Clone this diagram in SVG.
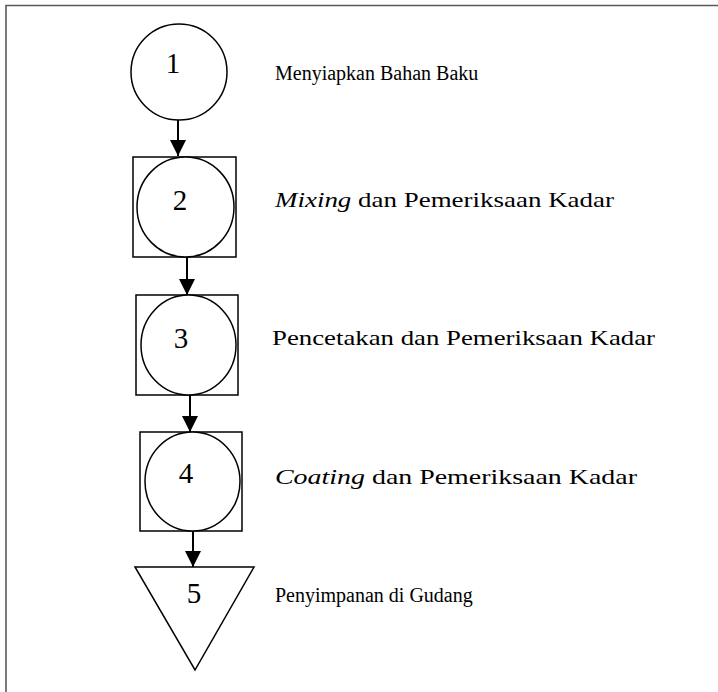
<svg xmlns="http://www.w3.org/2000/svg" width="718" height="692" viewBox="0 0 718 692">
  <defs>
    <marker id="arrow" markerWidth="16" markerHeight="16" refX="16" refY="8" orient="auto" markerUnits="userSpaceOnUse">
      <path d="M0,0 L16,8 L0,16 Z" fill="#000"/>
    </marker>
    <style>
      .shape { fill: #fff; stroke: #000; stroke-width: 1.5; }
      .num { font-family: "Liberation Serif", "Times New Roman", serif; font-size: 29px; fill: #000; text-anchor: middle; }
      .label { font-family: "Liberation Serif", "Times New Roman", serif; font-size: 20px; fill: #000; }
      .wide { font-size: 21px; }
      .conn { stroke: #000; stroke-width: 2; fill: none; marker-end: url(#arrow); }
      .frame { stroke: #5a5a5a; stroke-width: 1.6; fill: none; }
    </style>
  </defs>

  <rect width="718" height="692" fill="#fff"/>
  <!-- outer frame: top and left edges -->
  <path class="frame" d="M6,692 L6,5.5 L718,5.5"/>

  <!-- connectors -->
  <g id="connectors">
    <line class="conn" x1="178" y1="120" x2="178" y2="156"/>
    <line class="conn" x1="187" y1="257" x2="187" y2="295"/>
    <line class="conn" x1="190" y1="395" x2="190" y2="432"/>
    <line class="conn" x1="193" y1="531" x2="193" y2="567"/>
  </g>

  <!-- step 1: operation -->
  <g id="node1">
    <circle class="shape" cx="179" cy="72" r="48"/>
    <text class="num" x="173" y="73">1</text>
    <text class="label" x="275" y="80">Menyiapkan Bahan Baku</text>
  </g>

  <!-- step 2: combined operation / inspection -->
  <g id="node2">
    <rect class="shape" x="133" y="157" width="103" height="100"/>
    <ellipse class="shape" cx="185.5" cy="207" rx="48.5" ry="50"/>
    <text class="num" x="180" y="210">2</text>
    <text class="label wide" x="275" y="207" textLength="339" lengthAdjust="spacingAndGlyphs"><tspan font-style="italic">Mixing</tspan> dan Pemeriksaan Kadar</text>
  </g>

  <!-- step 3: combined operation / inspection -->
  <g id="node3">
    <rect class="shape" x="136" y="295" width="102" height="100"/>
    <ellipse class="shape" cx="188.5" cy="345" rx="47.5" ry="50"/>
    <text class="num" x="181" y="348">3</text>
    <text class="label wide" x="272" y="345" textLength="383" lengthAdjust="spacingAndGlyphs">Pencetakan dan Pemeriksaan Kadar</text>
  </g>

  <!-- step 4: combined operation / inspection -->
  <g id="node4">
    <rect class="shape" x="140" y="432" width="102" height="99"/>
    <ellipse class="shape" cx="192.5" cy="481.5" rx="47.5" ry="49.5"/>
    <text class="num" x="186" y="483">4</text>
    <text class="label wide" x="275" y="484" textLength="362" lengthAdjust="spacingAndGlyphs"><tspan font-style="italic">Coating</tspan> dan Pemeriksaan Kadar</text>
  </g>

  <!-- step 5: storage -->
  <g id="node5">
    <polygon class="shape" points="135,567 254,567 195,670"/>
    <text class="num" x="194" y="603">5</text>
    <text class="label" x="275" y="602">Penyimpanan di Gudang</text>
  </g>
</svg>
